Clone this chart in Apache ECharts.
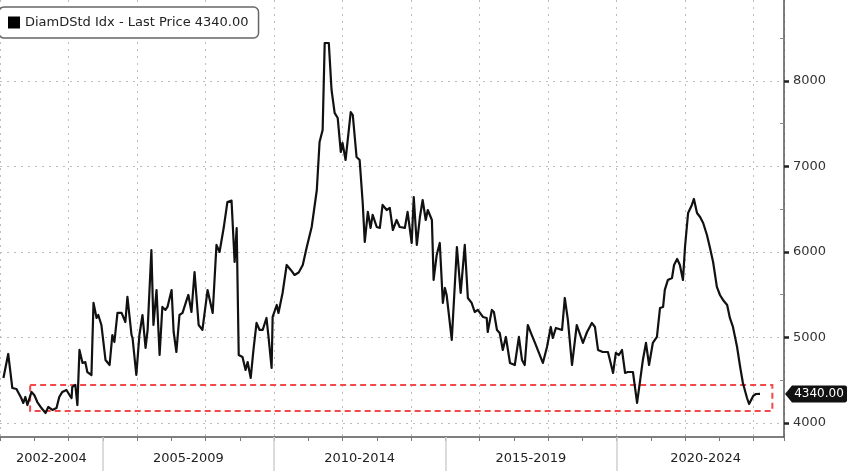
<!DOCTYPE html>
<html><head><meta charset="utf-8">
<script src="https://cdn.jsdelivr.net/npm/echarts@6/dist/echarts.min.js"></script>
<style>html,body{margin:0;padding:0;background:#fff}#c{width:848px;height:471px}</style>
</head><body><div id="c"></div>
<script>
const seriesName = 'DiamDStd Idx - Last Price 4340.00';
const lastPrice = 4340;
const dates = [
2002.10,2002.24,2002.36,2002.48,2002.62,2002.68,2002.74,2002.80,2002.92,2003.00,
2003.09,2003.21,2003.33,2003.41,2003.53,2003.65,2003.73,2003.82,2003.94,2004.03,
2004.09,2004.11,2004.20,2004.26,2004.32,2004.41,2004.49,2004.55,2004.67,2004.73,
2004.82,2004.87,2004.96,2005.08,2005.20,2005.28,2005.34,2005.43,2005.55,2005.66,
2005.72,2005.84,2005.87,2005.98,2006.07,2006.16,2006.25,2006.31,2006.42,2006.48,
2006.57,2006.66,2006.74,2006.83,2006.89,2007.01,2007.07,2007.15,2007.24,2007.33,
2007.45,2007.50,2007.59,2007.68,2007.80,2007.91,2008.06,2008.21,2008.32,2008.41,
2008.53,2008.64,2008.76,2008.85,2008.91,2008.97,2009.08,2009.17,2009.23,2009.32,
2009.40,2009.49,2009.58,2009.67,2009.78,2009.84,2009.93,2009.96,2010.08,2010.13,
2010.25,2010.37,2010.49,2010.60,2010.72,2010.84,2010.95,2011.10,2011.25,2011.33,
2011.42,2011.48,2011.60,2011.68,2011.77,2011.86,2011.95,2012.00,2012.09,2012.24,
2012.30,2012.41,2012.50,2012.59,2012.65,2012.74,2012.82,2012.88,2013.00,2013.09,
2013.17,2013.29,2013.38,2013.47,2013.58,2013.67,2013.82,2013.90,2014.02,2014.08,
2014.17,2014.26,2014.34,2014.43,2014.49,2014.61,2014.66,2014.75,2014.84,2014.93,
2014.99,2015.04,2015.19,2015.34,2015.45,2015.57,2015.66,2015.77,2015.86,2015.95,
2016.10,2016.21,2016.24,2016.36,2016.42,2016.51,2016.59,2016.68,2016.77,2016.89,
2017.03,2017.15,2017.24,2017.32,2017.41,2017.50,2017.62,2017.67,2017.85,2017.97,
2018.08,2018.14,2018.23,2018.41,2018.49,2018.58,2018.70,2018.84,2019.02,2019.14,
2019.28,2019.37,2019.46,2019.60,2019.75,2019.90,2019.98,2020.07,2020.16,2020.25,
2020.33,2020.48,2020.60,2020.68,2020.77,2020.86,2020.95,2021.06,2021.18,2021.27,
2021.36,2021.41,2021.50,2021.62,2021.68,2021.77,2021.85,2021.94,2022.00,2022.09,
2022.20,2022.26,2022.35,2022.44,2022.53,2022.64,2022.73,2022.82,2022.93,2023.02,
2023.11,2023.23,2023.31,2023.40,2023.52,2023.61,2023.69,2023.81,2023.87,2023.99,
2024.07,2024.19
];
const prices = [
4526,4807,4409,4398,4292,4234,4304,4210,4363,4327,
4245,4175,4117,4187,4152,4175,4304,4363,4386,4327,
4292,4421,4444,4210,4854,4702,4713,4596,4561,5404,
5228,5263,5146,4737,4678,5029,4947,5287,5287,5181,
5474,5029,4994,4561,5029,5263,4877,5088,6023,5146,
5555,4795,5357,5322,5357,5555,5064,4830,5263,5287,
5439,5497,5298,5766,5146,5088,5555,5287,6082,6000,
6280,6585,6600,5883,6280,4795,4772,4620,4713,4526,
4854,5170,5088,5088,5228,5006,4643,5240,5380,5287,
5520,5848,5790,5731,5760,5848,6047,6292,6725,7286,
7427,8444,8444,7895,7626,7567,7170,7275,7076,7637,
7602,7111,7076,6573,6117,6468,6281,6433,6292,6281,
6550,6491,6515,6257,6374,6292,6281,6468,6105,6643,
6082,6409,6608,6374,6491,6374,5673,5965,6105,5404,
5579,5497,4971,6058,5520,6082,5462,5404,5298,5322,
5240,5228,5064,5322,5298,5088,5053,4854,5006,4702,
4678,5006,4737,4678,5146,5053,4936,4947,4702,4889,
5123,4994,5111,5088,5462,5205,4678,5146,4936,5064,
5170,5123,4854,4830,4830,4585,4819,4795,4854,4585,
4596,4596,4234,4468,4737,4936,4678,4936,5006,5345,
5357,5556,5673,5696,5848,5918,5848,5673,6058,6456,
6550,6620,6456,6409,6339,6199,6047,5883,5591,5497,
5439,5380,5228,5123,4889,4655,4468,4292,4222,4316,
4339,4340
];
const xMin = 2002, xMax = 2024.89;
const yMin = 3836, yMax = 8947;
const yTickValues = [4000, 5000, 6000, 7000, 8000];
const yMinorTickValues = [4500, 5500, 6500, 7500, 8500];
const periodBounds = [2005, 2010, 2015, 2020];
const periodLabels = ['2002-2004', '2005-2009', '2010-2014', '2015-2019', '2020-2024'];
const periodCenters = [2003.5, 2007.5, 2012.5, 2017.5, 2022.6];
const bandStart = 2002.88, bandEnd = 2024.55, bandLow = 4140, bandHigh = 4445;

const FONT = 'DejaVu Sans';
const chart = echarts.init(document.getElementById('c'), null, {renderer: 'canvas'});
const gridLine = {show: true, lineStyle: {color: '#bdbdbd', type: [2, 5], width: 1}};
chart.setOption({
  animation: false,
  backgroundColor: '#fff',
  grid: {left: 0, right: 64, top: 0, bottom: 34, outerBoundsMode: 'none', containLabel: false},
  legend: {
    data: [seriesName], left: -1, top: 7, icon: 'rect', itemWidth: 12, itemHeight: 12,
    padding: [9, 10, 9, 9], backgroundColor: '#fff', borderColor: '#666', borderWidth: 1.5, borderRadius: 5,
    textStyle: {fontFamily: FONT, fontSize: 13, color: '#222'}
  },
  xAxis: [
    {type: 'value', min: xMin, max: xMax, interval: 1, position: 'bottom',
     axisLine: {show: true, lineStyle: {color: '#555', width: 1.5}},
     axisTick: {show: true, length: 4, lineStyle: {color: '#777', width: 1}},
     axisLabel: {show: false}, splitLine: {show: false}},
    {type: 'value', min: xMin, max: xMax, interval: 2, position: 'bottom',
     axisLine: {show: false}, axisTick: {show: false}, axisLabel: {show: false}, splitLine: gridLine},
    {type: 'value', min: xMin, max: xMax, position: 'bottom',
     axisLine: {show: false},
     axisTick: {show: true, customValues: periodBounds, length: 34, lineStyle: {color: '#cfcfcf', width: 1.5}},
     axisLabel: {show: true, customValues: periodCenters, margin: 15, color: '#222', fontFamily: FONT, fontSize: 13,
       formatter: v => { let b = 0; periodCenters.forEach((c, i) => { if (Math.abs(c - v) < Math.abs(periodCenters[b] - v)) b = i; }); return periodLabels[b]; }},
     splitLine: {show: false}}
  ],
  yAxis: [
    {type: 'value', min: yMin, max: yMax, position: 'right',
     axisLine: {show: true, lineStyle: {color: '#555', width: 1.5}},
     axisTick: {show: true, customValues: yTickValues, length: 5, lineStyle: {color: '#222', width: 2.5}},
     axisLabel: {show: true, customValues: yTickValues, margin: 9, color: '#333', fontFamily: FONT, fontSize: 13,
       formatter: v => String(Math.round(v))},
     splitLine: gridLine},
    {type: 'value', min: yMin, max: yMax, position: 'right',
     axisLine: {show: false},
     axisTick: {show: true, customValues: yMinorTickValues, inside: true, length: 4, lineStyle: {color: '#888', width: 1}},
     axisLabel: {show: false}, splitLine: {show: false}}
  ],
  series: [{
    name: seriesName, type: 'line', xAxisIndex: 0, yAxisIndex: 0,
    data: dates.map((d, i) => [d, prices[i]]),
    showSymbol: false, symbol: 'none',
    lineStyle: {color: '#111', width: 2.2, join: 'round'}, itemStyle: {color: '#000'},
    markArea: {silent: true,
      itemStyle: {color: 'rgba(0,0,0,0)', borderColor: '#f04a4a', borderWidth: 2, borderType: [6, 4]},
      data: [[{coord: [bandStart, bandHigh]}, {coord: [bandEnd, bandLow]}]]},
    markPoint: {silent: true,
      data: [{coord: [xMax, lastPrice]}],
      symbol: 'path://M0,8 L7,0 L60,0 Q62,0 62,2 L62,14 Q62,16 60,16 L7,16 Z',
      symbolSize: [62, 17], symbolKeepAspect: false, symbolOffset: [32, 0],
      itemStyle: {color: '#111'},
      label: {show: true, position: 'inside', offset: [3, 0], color: '#fff', fontFamily: FONT, fontSize: 12,
        formatter: () => lastPrice.toFixed(2)}}
  }]
});
</script></body></html>
